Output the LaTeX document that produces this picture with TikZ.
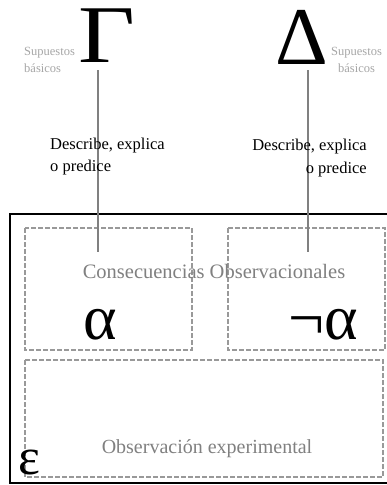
\documentclass[tikz,border=0pt]{standalone}
\usepackage{fontspec}
\setmainfont{Liberation Serif}
\usepackage{xcolor}
\usetikzlibrary{positioning}

\begin{document}
\begin{tikzpicture}[x=1pt,y=-1pt,
    dashbox/.style={draw=gray!80, line width=1.4pt, dash pattern=on 5pt off 2pt},
    link/.style={draw=gray, line width=2.6pt},
    faint/.style={text=gray, inner sep=0pt}]
    \clip (0,0) rectangle (387,485);
    \useasboundingbox (0,0) rectangle (387,485);
    % cuadro exterior y cuadros de trazos
    \draw[black, line width=2.6pt] (10,214) rectangle (420,483);
    \draw[dashbox] (25,228) rectangle (192,350);
    \draw[dashbox] (228,228) rectangle (385,350);
    \draw[dashbox] (25,360) rectangle (383,477);
    % teorias
    \node[inner sep=0pt, xscale=1.2, font=\fontsize{82}{82}\selectfont] (gamma) at (107,36) {Γ};
    \node[inner sep=0pt, font=\fontsize{82}{82}\selectfont] (delta) at (302,37) {Δ};
    \node[faint, text=gray!70, align=left, anchor=north west, font=\fontsize{12.5}{17}\selectfont] (supL) at (24,47) {Supuestos\\básicos};
    \node[faint, text=gray!70, align=center, anchor=north west, font=\fontsize{12.5}{17}\selectfont] (supR) at (331,47) {Supuestos\\básicos};
    \coordinate (gtop) at (98,70);
    \coordinate (dtop) at (308,70);
    \coordinate (gend) at (98,252);
    \coordinate (dend) at (308,252);
    \draw[link] (gtop) -- (gend);
    \draw[link] (dtop) -- (dend);
    \node[inner sep=0pt, align=left, anchor=north west, font=\fontsize{16.5}{22}\selectfont] (descL) at (50,138) {Describe, explica\\o predice};
    \node[inner sep=0pt, align=right, anchor=north east, font=\fontsize{16.5}{23}\selectfont] (descR) at (367,139) {Describe, explica\\o predice};
    % consecuencias
    \node[faint, font=\fontsize{20.5}{20.5}\selectfont] (consec) at (214,271) {Consecuencias Observacionales};
    \node[inner sep=0pt, font=\fontsize{64}{64}\selectfont] (alpha) at (100,325) {α};
    \node[inner sep=0pt, font=\fontsize{64}{64}\selectfont] (nalpha) at (323,325) {¬α};
    \node[faint, font=\fontsize{20}{20}\selectfont] (obsexp) at (207,449) {Observación experimental};
    \node[inner sep=0pt, font=\fontsize{52}{52}\selectfont] (eps) at (29,462) {ε};
\end{tikzpicture}
\end{document}
